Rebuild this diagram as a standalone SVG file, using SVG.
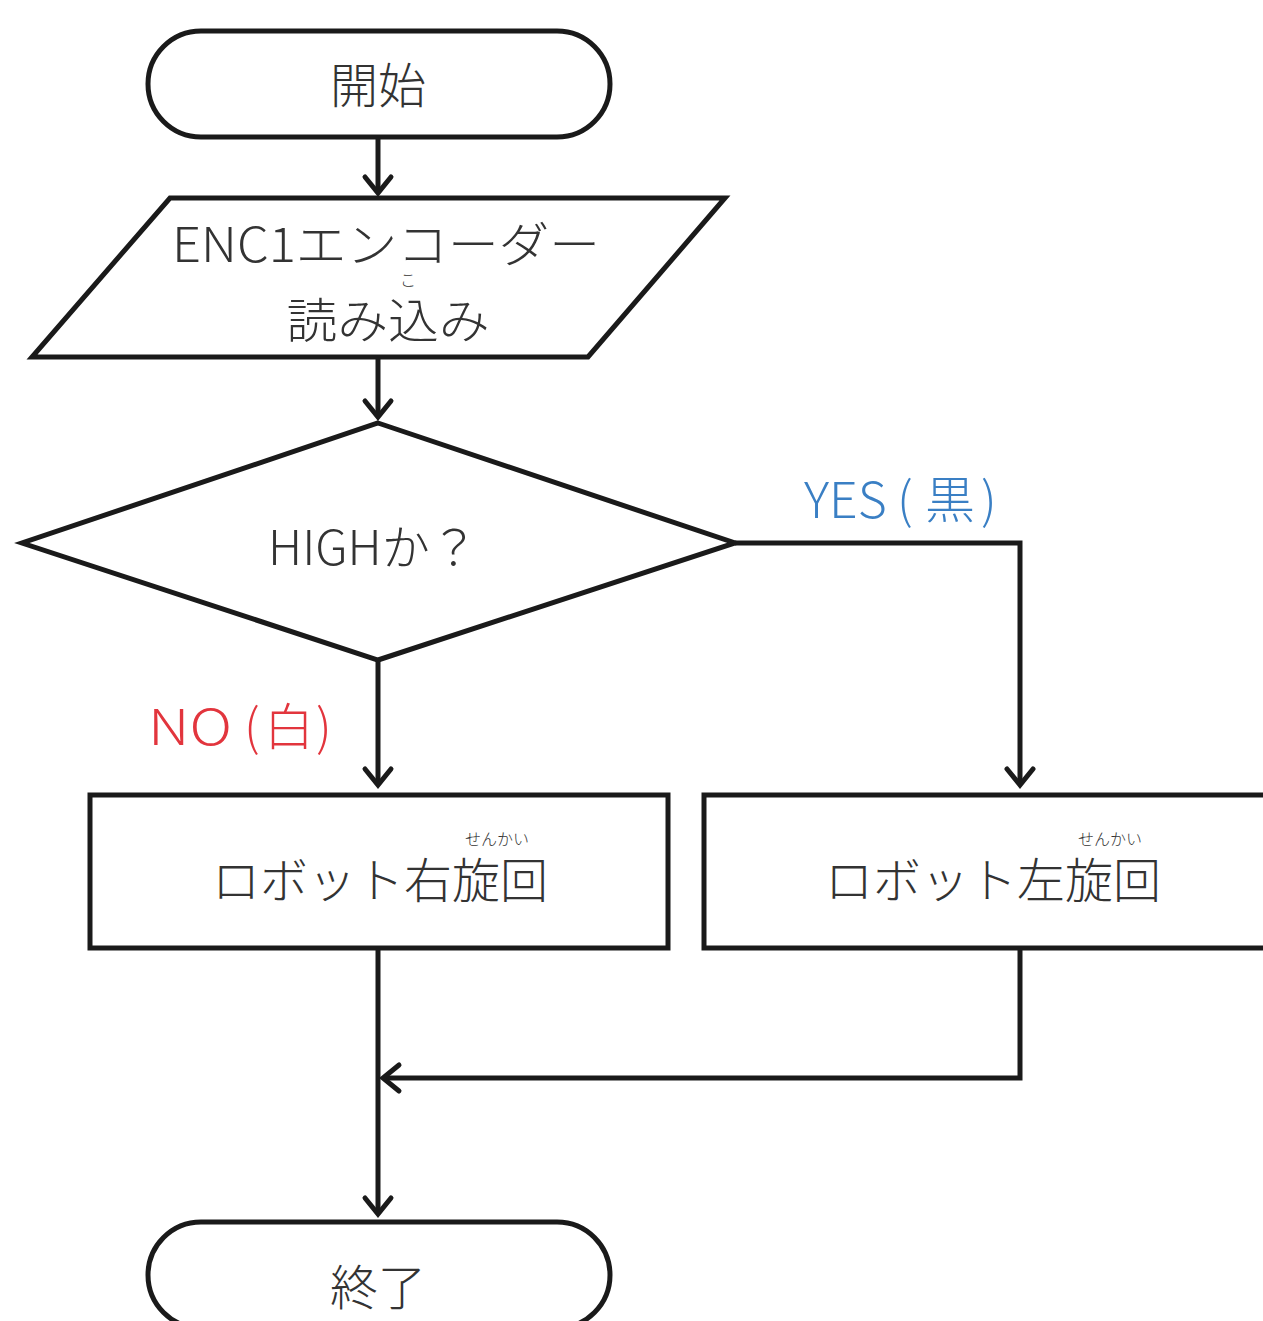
<svg xmlns="http://www.w3.org/2000/svg" width="1263" height="1321" viewBox="0 0 1263 1321">
<style>
.shape{fill:#fff;stroke:#1a1a1a;stroke-width:5;stroke-linejoin:miter}
.conn{fill:none;stroke:#1a1a1a;stroke-width:5}
.t{font-family:"Noto Sans CJK JP","Noto Sans",sans-serif;font-weight:300;fill:#333;text-anchor:middle}
.main{font-size:48px}
.ruby{font-size:16px}
.yes{font-family:"Noto Sans CJK JP","Noto Sans",sans-serif;font-weight:300;font-size:50px;fill:#3a7fc4}
.no{font-family:"Noto Sans CJK JP","Noto Sans",sans-serif;font-weight:300;font-size:50px;fill:#e2353d}
</style>
<defs>
<marker id="arr" markerUnits="userSpaceOnUse" markerWidth="40" markerHeight="40" refX="20" refY="20" viewBox="0 0 40 40" orient="auto" overflow="visible">
<path d="M4,7 L20,20 L4,33" fill="none" stroke="#1a1a1a" stroke-width="5" stroke-linecap="round" stroke-linejoin="miter"/>
</marker>
</defs>
<rect width="1263" height="1321" fill="#fff"/>
<g id="connectors">
<path class="conn" d="M378,137 L378,193" marker-end="url(#arr)"/>
<path class="conn" d="M378,357 L378,417" marker-end="url(#arr)"/>
<path class="conn" d="M735,543 L1020,543 L1020,785" marker-end="url(#arr)"/>
<path class="conn" d="M378,660 L378,785" marker-end="url(#arr)"/>
<path class="conn" d="M378,948 L378,1214" marker-end="url(#arr)"/>
<path class="conn" d="M1020,948 L1020,1078 L383,1078" marker-end="url(#arr)"/>
</g>
<g id="start">
<rect class="shape" x="148" y="31" width="462" height="106" rx="53" ry="53"/>
<text class="t main" x="378" y="103">開始</text>
</g>
<g id="input">
<polygon class="shape" points="170,198 725,198 588,357 32,357"/>
<text class="t main" x="386" y="262" textLength="428" lengthAdjust="spacingAndGlyphs">ENC1エンコーダー</text>
<text class="t ruby" x="408" y="286">こ</text>
<text class="t main" x="388" y="338" textLength="203" lengthAdjust="spacingAndGlyphs">読み込み</text>
</g>
<g id="decision">
<polygon class="shape" points="378,423 735,543 378,660 22,543"/>
<text class="t main" x="373" y="565" textLength="210" lengthAdjust="spacingAndGlyphs">HIGHか？</text>
</g>
<g id="label-yes"><text class="yes" y="518"><tspan x="804">YES</tspan><tspan x="897">(</tspan><tspan x="925">黒</tspan><tspan x="981">)</tspan></text></g>
<g id="label-no"><text class="no" y="745"><tspan x="148" textLength="84" lengthAdjust="spacingAndGlyphs">NO</tspan><tspan x="244">(</tspan><tspan x="264">白</tspan><tspan x="316">)</tspan></text></g>
<g id="right-turn">
<rect class="shape" x="90" y="795" width="578" height="153"/>
<text class="t main" x="380" y="898">ロボット右旋回</text>
<text class="t ruby" x="497" y="845">せんかい</text>
</g>
<g id="left-turn">
<rect class="shape" x="704" y="795" width="570" height="153"/>
<text class="t main" x="993" y="898">ロボット左旋回</text>
<text class="t ruby" x="1110" y="845">せんかい</text>
</g>
<g id="end">
<rect class="shape" x="148" y="1222" width="462" height="106" rx="53" ry="53"/>
<text class="t main" x="378" y="1305">終了</text>
</g>
</svg>
